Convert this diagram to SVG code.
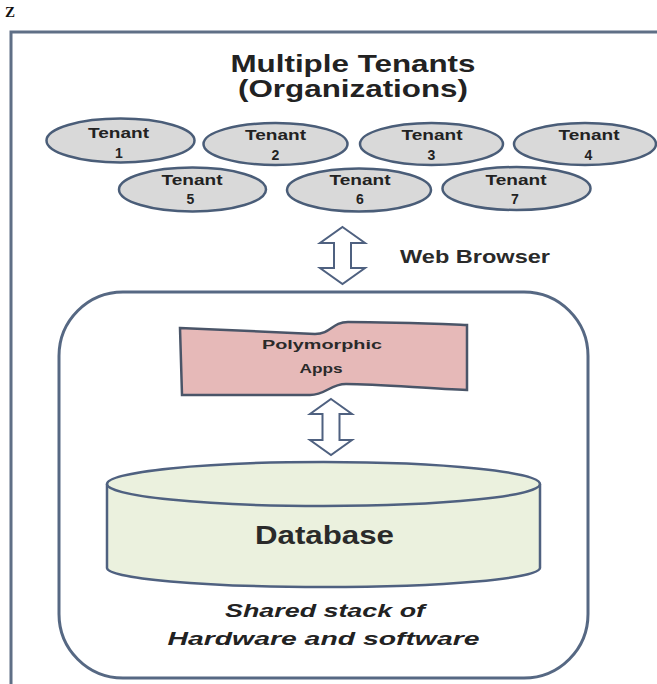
<svg xmlns="http://www.w3.org/2000/svg" width="657" height="684" viewBox="0 0 657 684">
  <style>
    .frame { fill: none; stroke: #5f6f86; stroke-width: 3; }
    .tenant ellipse { fill: #d9d9d9; stroke: #4a5d78; stroke-width: 2.5; }
    .tlabel { font-family: "Liberation Sans", Arial, sans-serif; font-weight: bold; font-size: 14px; fill: #222; text-anchor: middle; }
    .title { font-family: "Liberation Sans", Arial, sans-serif; font-weight: bold; font-size: 24px; fill: #222; text-anchor: middle; }
    .arrow { fill: #ffffff; stroke: #4f6180; stroke-width: 2; stroke-linejoin: miter; }
    .lbl { font-family: "Liberation Sans", Arial, sans-serif; font-weight: bold; fill: #2a2a2a; text-anchor: middle; }
    .ital { font-family: "Liberation Sans", Arial, sans-serif; font-weight: bold; font-style: italic; font-size: 18px; fill: #222; text-anchor: middle; }
  </style>
  <rect width="657" height="684" fill="#ffffff"/>
  <text x="5" y="17" font-family="Liberation Serif, serif" font-weight="bold" font-size="15" fill="#111">Z</text>

  <g id="outer-frame">
    <path class="frame" d="M11,684 L11,32 L657,32"/>
  </g>

  <g id="title">
    <text class="title" x="353" y="72" textLength="245" lengthAdjust="spacingAndGlyphs">Multiple Tenants</text>
    <text class="title" x="353" y="97" textLength="230" lengthAdjust="spacingAndGlyphs">(Organizations)</text>
  </g>

  <g id="tenant1" class="tenant">
    <ellipse cx="120.5" cy="140.5" rx="74" ry="22"/>
    <text class="tlabel" x="118.5" y="138" textLength="61" lengthAdjust="spacingAndGlyphs">Tenant</text>
    <text class="tlabel" x="119" y="158">1</text>
  </g>
  <g id="tenant2" class="tenant">
    <ellipse cx="275.5" cy="144" rx="72" ry="21"/>
    <text class="tlabel" x="275.5" y="140" textLength="61" lengthAdjust="spacingAndGlyphs">Tenant</text>
    <text class="tlabel" x="275.5" y="160">2</text>
  </g>
  <g id="tenant3" class="tenant">
    <ellipse cx="431.5" cy="144" rx="71.5" ry="21"/>
    <text class="tlabel" x="432" y="140" textLength="61" lengthAdjust="spacingAndGlyphs">Tenant</text>
    <text class="tlabel" x="431.5" y="160">3</text>
  </g>
  <g id="tenant4" class="tenant">
    <ellipse cx="585" cy="144" rx="71" ry="21"/>
    <text class="tlabel" x="589" y="140" textLength="61" lengthAdjust="spacingAndGlyphs">Tenant</text>
    <text class="tlabel" x="588.5" y="160">4</text>
  </g>
  <g id="tenant5" class="tenant">
    <ellipse cx="192.5" cy="189.5" rx="73.5" ry="22"/>
    <text class="tlabel" x="192" y="185" textLength="61" lengthAdjust="spacingAndGlyphs">Tenant</text>
    <text class="tlabel" x="190.5" y="204">5</text>
  </g>
  <g id="tenant6" class="tenant">
    <ellipse cx="359" cy="190" rx="72" ry="21.5"/>
    <text class="tlabel" x="360" y="185" textLength="61" lengthAdjust="spacingAndGlyphs">Tenant</text>
    <text class="tlabel" x="360" y="204">6</text>
  </g>
  <g id="tenant7" class="tenant">
    <ellipse cx="516.5" cy="188.5" rx="74" ry="21.5"/>
    <text class="tlabel" x="516" y="185" textLength="61" lengthAdjust="spacingAndGlyphs">Tenant</text>
    <text class="tlabel" x="515" y="204">7</text>
  </g>

  <g id="shared-stack">
    <rect x="59" y="292" width="529" height="386" rx="64" ry="64" fill="#ffffff" stroke="#566883" stroke-width="3"/>
    <text class="ital" x="325" y="617" textLength="200" lengthAdjust="spacingAndGlyphs">Shared stack of</text>
    <text class="ital" x="323.5" y="645" textLength="312" lengthAdjust="spacingAndGlyphs">Hardware and software</text>
  </g>

  <g id="polymorphic-apps">
    <path d="M180,328 C230,330 290,333 315,334 C331,334 332,322 348,322 C390,322 440,324 467,325 L467,390 C430,389 380,384 346,384 C330,384 326,395 310,395 C260,395 210,395 182,395 Z" fill="#e6b9b8" stroke="#4a5568" stroke-width="2.5"/>
    <text class="lbl" x="322" y="349" font-size="13" textLength="120" lengthAdjust="spacingAndGlyphs">Polymorphic</text>
    <text class="lbl" x="321" y="373" font-size="13" textLength="43" lengthAdjust="spacingAndGlyphs">Apps</text>
  </g>

  <g id="database">
    <path d="M107,484 L107,568 A216.5,19 0 0 0 540,568 L540,484" fill="#ebf1de" stroke="#4f6180" stroke-width="2.5"/>
    <ellipse cx="323.5" cy="484" rx="216.5" ry="22" fill="#ebf1de" stroke="#4f6180" stroke-width="2.5"/>
    <text class="lbl" x="324.5" y="544" font-size="25" fill="#1e1e1e" textLength="139" lengthAdjust="spacingAndGlyphs">Database</text>
  </g>

  <g id="connectors">
    <polygon class="arrow" points="342.5,227 365,243 351,243 351,268 365,268 342.5,284 320,268 334,268 334,243 320,243"/>
    <polygon class="arrow" points="331,399 352,414 339.5,414 339.5,440 352,440 331,455 310,440 322.5,440 322.5,414 310,414"/>
    <text class="lbl" x="475" y="263" font-size="18" fill="#333" textLength="150" lengthAdjust="spacingAndGlyphs">Web Browser</text>
  </g>
</svg>
